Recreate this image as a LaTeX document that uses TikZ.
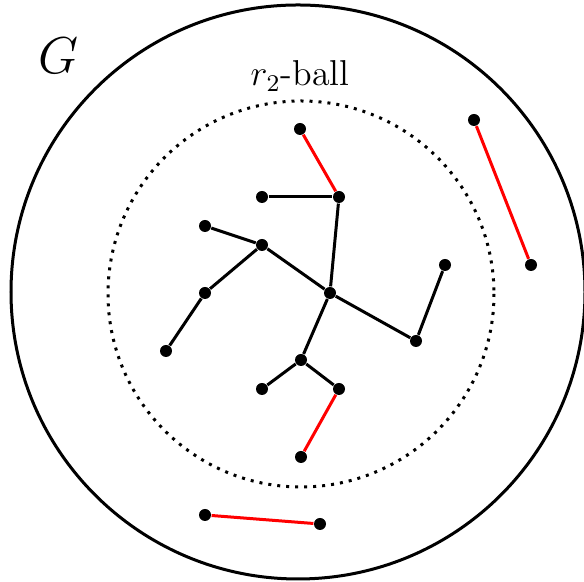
\documentclass[tikz,border=0pt]{standalone}
\usepackage{tikz}
\usetikzlibrary{positioning}

\begin{document}
\begin{tikzpicture}[
  x=0.3333pt,
  y=-0.3333pt,
  vertex/.style={
    circle,
    fill=black,
    inner sep=0pt,
    minimum size=4pt
  },
  edge/.style={
    line width=1pt
  },
  redge/.style={
    line width=1pt,
    draw=red
  }
]
  \useasboundingbox (0,0) rectangle (584,582);

  \draw[line width=1pt] (298,292) circle[radius=287];
  \draw[line width=1pt,dotted] (301,294) circle[radius=193];

  \node[font=\LARGE] (glabel) at (59,56) {$G$};
  \node[font=\large] (balllabel) at (300,76) {$r_2$-ball};

  \node[vertex] (top) at (300,129) {};
  \node[vertex] (hub) at (339,197) {};
  \node[vertex] (left) at (262,197) {};
  \node[vertex] (leaf) at (205,226) {};
  \node[vertex] (joint) at (262,245) {};
  \node[vertex] (root) at (330,293) {};
  \node[vertex] (mid) at (205,293) {};
  \node[vertex] (low) at (166,351) {};
  \node[vertex] (east) at (445,265) {};
  \node[vertex] (knee) at (416,341) {};
  \node[vertex] (fork) at (301,360) {};
  \node[vertex] (forkl) at (262,389) {};
  \node[vertex] (forkr) at (339,389) {};
  \node[vertex] (bottom) at (301,457) {};
  \node[vertex] (outa) at (474,120) {};
  \node[vertex] (outb) at (531,265) {};
  \node[vertex] (outc) at (205,515) {};
  \node[vertex] (outd) at (320,524) {};

  \draw[edge] (left) -- (hub);
  \draw[edge] (hub) -- (root);
  \draw[edge] (leaf) -- (joint);
  \draw[edge] (joint) -- (root);
  \draw[edge] (joint) -- (mid);
  \draw[edge] (mid) -- (low);
  \draw[edge] (root) -- (knee);
  \draw[edge] (knee) -- (east);
  \draw[edge] (root) -- (fork);
  \draw[edge] (fork) -- (forkl);
  \draw[edge] (fork) -- (forkr);

  \draw[redge] (top) -- (hub);
  \draw[redge] (forkr) -- (bottom);
  \draw[redge] (outa) -- (outb);
  \draw[redge] (outc) -- (outd);
\end{tikzpicture}
\end{document}
